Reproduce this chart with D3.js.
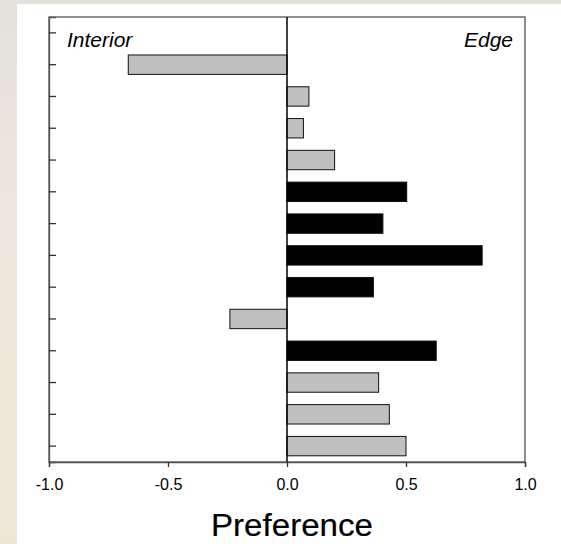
<!DOCTYPE html>
<html>
<head>
<meta charset="utf-8">
<script src="https://cdn.jsdelivr.net/npm/d3@7"></script>
<style>
  html, body { margin: 0; padding: 0; }
  body {
    width: 561px; height: 544px; overflow: hidden;
    background: linear-gradient(to bottom, #e4e1dc 0%, #ede8de 40%, #efe7d6 100%);
  }
  #panel { position: absolute; left: 17px; top: 4px; width: 544px; height: 540px; background: #fff; }
  svg { position: absolute; left: 0; top: 0; }
  text { font-family: "Liberation Sans", Arial, sans-serif; }
</style>
</head>
<body>
<div id="panel"></div>
<svg id="chart" width="561" height="544"></svg>
<script>
// rows from top to bottom, first slot is empty
const rows = ["r0", "r1", "r2", "r3", "r4", "r5", "r6", "r7", "r8", "r9", "r10", "r11", "r12", "r13"];
const preference = [null, -0.667, 0.092, 0.069, 0.20, 0.503, 0.403, 0.82, 0.363, -0.24, 0.627, 0.385, 0.43, 0.50];
const group = [null, "grey", "grey", "grey", "grey", "black", "black", "black", "black", "grey", "black", "grey", "grey", "grey"];
const xTicks = [-1.0, -0.5, 0.0, 0.5, 1.0];

const margin = { left: 49, right: 36, top: 17, bottom: 82 };
const width = 561, height = 544;

const svg = d3.select("#chart");

const x = d3.scaleLinear()
  .domain([-1, 1])
  .range([margin.left, width - margin.right]);

const y = d3.scaleBand()
  .domain(rows)
  .range([margin.top, height - margin.bottom])
  .paddingInner(0.39)
  .paddingOuter(0.195);

// frame
svg.append("rect")
  .attr("x", x(-1))
  .attr("y", margin.top)
  .attr("width", x(1) - x(-1))
  .attr("height", height - margin.bottom - margin.top)
  .attr("fill", "none")
  .attr("stroke", "#555")
  .attr("stroke-width", 1.3);

// bars
const data = rows.map((r, i) => ({ row: r, value: preference[i], group: group[i] }))
  .filter(d => d.value !== null);

svg.append("g")
  .selectAll("rect")
  .data(data)
  .join("rect")
  .attr("x", d => x(Math.min(0, d.value)))
  .attr("y", d => y(d.row))
  .attr("width", d => Math.abs(x(d.value) - x(0)))
  .attr("height", y.bandwidth())
  .attr("fill", d => d.group === "black" ? "#000" : "#c0c0c0")
  .attr("stroke", "#111")
  .attr("stroke-width", 1);

// zero line
svg.append("line")
  .attr("x1", x(0)).attr("x2", x(0))
  .attr("y1", margin.top).attr("y2", height - margin.bottom)
  .attr("stroke", "#000")
  .attr("stroke-width", 1.5);

// left axis, ticks point inward, no labels
const yAxis = svg.append("g")
  .attr("transform", `translate(${margin.left},0)`)
  .call(d3.axisLeft(y).tickSize(-7).tickFormat(""));
yAxis.select(".domain").attr("stroke", "#555").attr("stroke-width", 1.3);
yAxis.selectAll(".tick line").attr("stroke", "#333").attr("stroke-width", 1.3);

// bottom axis, plain hyphen for the minus sign
const fmt = d => d.toFixed(1);
const xAxis = svg.append("g")
  .attr("transform", `translate(0,${height - margin.bottom})`)
  .call(d3.axisBottom(x).tickValues(xTicks).tickSize(5).tickPadding(12).tickFormat(fmt));
xAxis.select(".domain").attr("stroke", "#555").attr("stroke-width", 1.3);
xAxis.selectAll(".tick line").attr("stroke", "#333").attr("stroke-width", 1.3);
xAxis.selectAll(".tick text")
  .attr("font-family", "Liberation Sans, Arial, sans-serif")
  .attr("font-size", 16)
  .attr("fill", "#000");

// corner labels
svg.append("text")
  .attr("x", 67).attr("y", 47)
  .attr("font-size", 21).attr("font-style", "italic")
  .text("Interior");

svg.append("text")
  .attr("x", 513).attr("y", 47)
  .attr("text-anchor", "end")
  .attr("font-size", 21).attr("font-style", "italic")
  .text("Edge");

// axis title
svg.append("text")
  .attr("x", x(0) + 5).attr("y", 536)
  .attr("text-anchor", "middle")
  .attr("font-family", "'Liberation Sans Narrow', 'DejaVu Sans Condensed', sans-serif")
  .attr("font-size", 32)
  .attr("stroke", "#000")
  .attr("stroke-width", 0.2)
  .attr("textLength", 162)
  .attr("lengthAdjust", "spacingAndGlyphs")
  .text("Preference");
</script>
</body>
</html>
